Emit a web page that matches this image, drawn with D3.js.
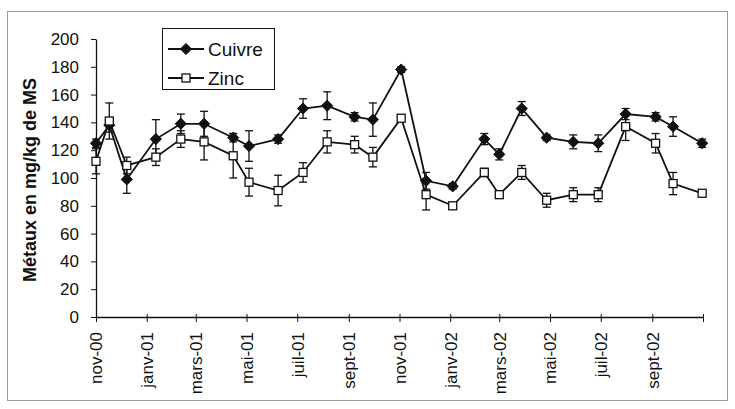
<!DOCTYPE html>
<html>
<head>
<meta charset="utf-8">
<script src="https://cdn.jsdelivr.net/npm/d3@7"></script>
<style>
  html, body { margin: 0; padding: 0; background: #fff; }
  svg { display: block; font-family: Arial, "Liberation Sans", sans-serif; }
</style>
</head>
<body>
<svg id="chart" width="735" height="409"></svg>
<script>
// ---- data ----
const dates = ["2000-11-01","2000-11-17","2000-12-08","2001-01-12","2001-02-11","2001-03-11",
  "2001-04-15","2001-05-04","2001-06-08","2001-07-08","2001-08-06","2001-09-08","2001-09-30",
  "2001-11-03","2001-12-03","2002-01-04","2002-02-11","2002-03-01","2002-03-28","2002-04-27",
  "2002-05-29","2002-06-28","2002-07-31","2002-09-05","2002-09-26","2002-10-31"];
const cuivre = [125,138,99,128,139,139,129,123,128,150,152,144,142,178,98,94,128,117,150,129,126,125,146,144,137,125];
const cuivreErr = [3,5,10,14,7,9,3,11,3,7,10,3,12,2,6,2,4,4,5,2,5,6,4,3,7,3];
const zinc = [112,141,109,115,128,126,116,97,91,104,126,124,115,143,88,80,104,88,104,84,88,88,137,125,96,89];
const zincErr = [9,13,6,6,6,13,16,10,11,7,8,6,7,2,11,2,3,2,5,5,5,5,10,7,8,2];
const tickDates = ["2000-11-01","2001-01-01","2001-03-01","2001-05-01","2001-07-01","2001-09-01",
  "2001-11-01","2002-01-01","2002-03-01","2002-05-01","2002-07-01","2002-09-01","2002-11-01"];
const tickLabels = ["nov-00","janv-01","mars-01","mai-01","juil-01","sept-01","nov-01",
  "janv-02","mars-02","mai-02","juil-02","sept-02",""];
const yTicks = [0,20,40,60,80,100,120,140,160,180,200];
const seriesNames = ["Cuivre","Zinc"];
const yTitle = "Métaux en mg/kg de MS";

// ---- setup ----
const parse = d3.utcParse("%Y-%m-%d");
const svg = d3.select("#chart");
const ink = "#111";
const fontFam = "Arial, 'Liberation Sans', sans-serif";

// outer frame
svg.append("rect").attr("x", 7.5).attr("y", 11.5).attr("width", 720).attr("height", 389)
  .attr("fill", "none").attr("stroke", "#9a9a9a").attr("stroke-width", 1);

const x = d3.scaleUtc()
  .domain([parse(tickDates[0]), parse(tickDates[tickDates.length - 1])])
  .range([96, 703]);
const y = d3.scaleLinear().domain([0, 200]).range([317, 39]);

// y axis
const yAxis = d3.axisLeft(y).tickValues(yTicks).tickSize(5).tickPadding(12).tickSizeOuter(0);
const gy = svg.append("g").attr("transform", "translate(96,0)").call(yAxis);
gy.select(".domain").attr("stroke", ink).attr("stroke-width", 1.3);
gy.selectAll(".tick line").attr("stroke", ink);
gy.selectAll(".tick text").attr("font-size", 17).attr("fill", ink).attr("font-family", fontFam);

// x axis
const xAxis = d3.axisBottom(x)
  .tickValues(tickDates.map(parse))
  .tickFormat((d, i) => tickLabels[i])
  .tickSize(5).tickSizeOuter(0);
const gx = svg.append("g").attr("transform", "translate(0,317)").call(xAxis);
gx.select(".domain").attr("stroke", ink).attr("stroke-width", 1.3);
gx.selectAll(".tick line").attr("stroke", ink).attr("y1", -3);
gx.selectAll(".tick text")
  .attr("font-size", 17).attr("fill", ink).attr("font-family", fontFam)
  .attr("transform", "rotate(-90)")
  .attr("text-anchor", "end")
  .attr("dy", "0.35em")
  .attr("x", -15).attr("y", 0);

// y title
svg.append("text")
  .attr("transform", "translate(36,180) rotate(-90)")
  .attr("text-anchor", "middle")
  .attr("font-size", 18).attr("font-weight", "bold").attr("fill", ink)
  .text(yTitle);

// data rows
const rowsCu = dates.map((d, i) => ({ date: parse(d), v: cuivre[i], e: cuivreErr[i] }));
const rowsZn = dates.map((d, i) => ({ date: parse(d), v: zinc[i], e: zincErr[i] }));

const line = d3.line().x(d => x(d.date)).y(d => y(d.v));

function errorBars(rows) {
  const g = svg.append("g").attr("stroke", ink).attr("stroke-width", 1.3);
  rows.forEach(d => {
    const cx = x(d.date), t = y(d.v + d.e), b = y(d.v - d.e);
    g.append("line").attr("x1", cx).attr("x2", cx).attr("y1", t).attr("y2", b);
    g.append("line").attr("x1", cx - 4).attr("x2", cx + 4).attr("y1", t).attr("y2", t);
    g.append("line").attr("x1", cx - 4).attr("x2", cx + 4).attr("y1", b).attr("y2", b);
  });
}
errorBars(rowsCu);
errorBars(rowsZn);

svg.append("path").datum(rowsCu).attr("d", line)
  .attr("fill", "none").attr("stroke", ink).attr("stroke-width", 1.8);
svg.append("path").datum(rowsZn).attr("d", line)
  .attr("fill", "none").attr("stroke", ink).attr("stroke-width", 1.8);

const diamond = d3.symbol().type(d3.symbolDiamond2).size(80);
function drawDiamond(g, cx, cy) {
  g.append("path").attr("d", diamond()).attr("transform", `translate(${cx},${cy})`)
    .attr("fill", ink).attr("stroke", ink).attr("stroke-width", 1);
}
function drawSquare(g, cx, cy) {
  g.append("rect").attr("x", cx - 4).attr("y", cy - 4).attr("width", 8).attr("height", 8)
    .attr("fill", "#fff").attr("stroke", ink).attr("stroke-width", 1.3);
}
const mk = svg.append("g");
rowsCu.forEach(d => drawDiamond(mk, x(d.date), y(d.v)));
rowsZn.forEach(d => drawSquare(mk, x(d.date), y(d.v)));

// legend
const lg = svg.append("g");
lg.append("rect").attr("x", 162.5).attr("y", 28.5).attr("width", 112).attr("height", 61)
  .attr("fill", "#fff").attr("stroke", ink).attr("stroke-width", 1);
const legendY = [49, 78];
seriesNames.forEach((name, i) => {
  const ly = legendY[i];
  lg.append("line").attr("x1", 168).attr("x2", 204).attr("y1", ly).attr("y2", ly)
    .attr("stroke", ink).attr("stroke-width", 1.8);
  if (i === 0) drawDiamond(lg, 186, ly); else drawSquare(lg, 186, ly);
  lg.append("text").attr("x", 208).attr("y", ly).attr("dy", "0.35em")
    .attr("font-size", 19).attr("fill", ink).text(name);
});
</script>
</body>
</html>
